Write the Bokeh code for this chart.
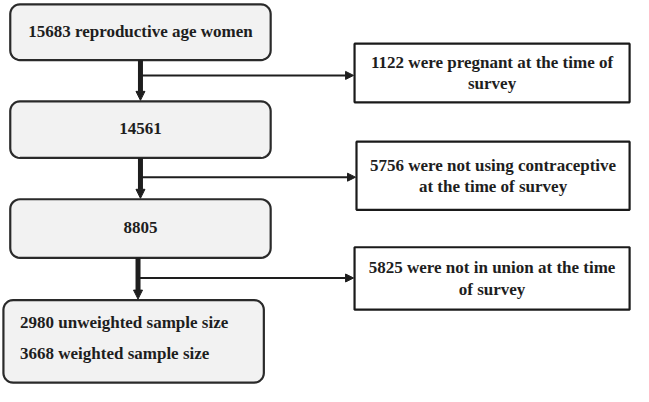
import numpy as np
from bokeh.plotting import figure
from bokeh.models import Range1d, Arrow, NormalHead
from bokeh.core.properties import value
from bokeh.embed import file_html
from bokeh.resources import INLINE

# ---- data ----
stage_counts = [15683, 14561, 8805]
stage_labels = ["15683 reproductive age women", "14561", "8805"]
excluded_counts = [1122, 5756, 5825]
excluded_line1 = ["1122 were pregnant at the time of",
                  "5756 were not using contraceptive",
                  "5825 were not in union at the time"]
excluded_line2 = ["survey", "at the time of survey", "of survey"]
final_unweighted = 2980
final_weighted = 3668
final_labels = [f"{final_unweighted} unweighted sample size",
                f"{final_weighted} weighted sample size"]

# ---- layout (reference pixel space, y down) ----
W, H = 649, 402
stage_boxes = [(10, 277, 4, 62), (10, 277, 105, 164), (10, 277, 207, 268)]
final_box = (3, 270, 312, 398)
excl_boxes = [(363, 645, 45, 106), (365, 645, 147, 218), (363, 645, 257, 322)]
vert_x = [143.5, 143.5, 141]
branch_y = [78, 184, 289]

FONT = value("Liberation Serif")
INK = "#1e1e1e"

p = figure(width=633, height=386, x_range=Range1d(0, W), y_range=Range1d(H, 0),
           output_backend="svg", toolbar_location=None, min_border=0)
p.axis.visible = False
p.grid.visible = False
p.outline_line_color = None
p.background_fill_color = "white"
p.border_fill_color = "white"


def rounded(x0, x1, y0, y1, r=10, n=8):
    xs, ys = [], []
    corners = [(x1 - r, y0 + r, -90, 0), (x1 - r, y1 - r, 0, 90),
               (x0 + r, y1 - r, 90, 180), (x0 + r, y0 + r, 180, 270)]
    for cx, cy, a0, a1 in corners:
        t = np.radians(np.linspace(a0, a1, n))
        xs += list(cx + r * np.cos(t))
        ys += list(cy + r * np.sin(t))
    return xs, ys


# stage boxes (rounded, grey)
for (x0, x1, y0, y1) in stage_boxes + [final_box]:
    xs, ys = rounded(x0, x1, y0, y1)
    p.patch(xs, ys, fill_color="#f2f2f2", line_color="#2a2a2a", line_width=2.2)

# excluded boxes (square, white)
for (x0, x1, y0, y1) in excl_boxes:
    p.quad(left=x0, right=x1, top=y0, bottom=y1, fill_color="white",
           line_color="#1a1a1a", line_width=2.2)

TS = "17px"

# stage texts
for (x0, x1, y0, y1), lab in zip(stage_boxes, stage_labels):
    p.text(x=[(x0 + x1) / 2], y=[(y0 + y1) / 2 - 1], text=[lab], text_align="center",
           text_baseline="middle", text_font=FONT, text_font_style="bold",
           text_font_size=TS, text_color=INK)

# final box texts
fx0, fx1, fy0, fy1 = final_box
p.text(x=[fx0 + 17, fx0 + 17], y=[fy0 + 23, fy0 + 56], text=final_labels,
       text_align="left", text_baseline="middle", text_font=FONT,
       text_font_style="bold", text_font_size=TS, text_color=INK)

# excluded texts
for (x0, x1, y0, y1), l1, l2 in zip(excl_boxes, excluded_line1, excluded_line2):
    cx = (x0 + x1) / 2
    cy = (y0 + y1) / 2
    p.text(x=[cx, cx], y=[cy - 11, cy + 11], text=[l1, l2], text_align="center",
           text_baseline="middle", text_font=FONT, text_font_style="bold",
           text_font_size=TS, text_color=INK)

# thick vertical arrows
starts = [stage_boxes[0][3], stage_boxes[1][3], stage_boxes[2][3]]
ends = [stage_boxes[1][2], stage_boxes[2][2], final_box[2]]
for x, ys, ye in zip(vert_x, starts, ends):
    p.add_layout(Arrow(end=NormalHead(size=9, fill_color=INK, line_color=INK, line_width=1),
                       x_start=x, y_start=ys, x_end=x, y_end=ye - 1,
                       line_width=5, line_color=INK))

# branch arrows
for x, y, (bx0, _, _, _) in zip(vert_x, branch_y, excl_boxes):
    p.add_layout(Arrow(end=NormalHead(size=8, fill_color=INK, line_color=INK, line_width=1),
                       x_start=x, y_start=y, x_end=bx0 - 1, y_end=y,
                       line_width=2, line_color=INK))

open("out.html", "w").write(file_html(p, INLINE))
